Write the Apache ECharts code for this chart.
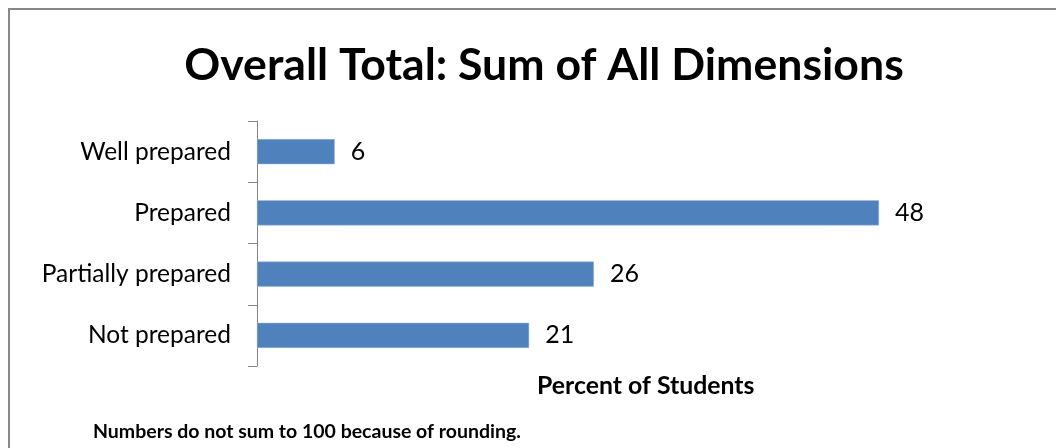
<!DOCTYPE html>
<html>
<head>
<meta charset="utf-8">
<script src="https://cdn.jsdelivr.net/npm/echarts@6/dist/echarts.min.js"></script>
<style>
html, body { margin: 0; padding: 0; background: #fff; }
#main { width: 1056px; height: 448px; }
</style>
</head>
<body>
<div id="main"></div>
<script>
var categories = ['Well prepared', 'Prepared', 'Partially prepared', 'Not prepared'];
var percents = [6, 48, 26, 21];

var chart = echarts.init(document.getElementById('main'));
var font = 'Lato';

var option = {
    backgroundColor: '#fff',
    animation: false,
    title: {
        text: 'Overall Total: Sum of All Dimensions',
        left: 539,
        top: 38,
        textAlign: 'center',
        textStyle: {
            fontFamily: font,
            fontSize: 44.6,
            fontWeight: 'bold',
            color: '#000'
        }
    },
    grid: {
        left: 257,
        top: 121,
        width: 777.5,
        height: 245
    },
    xAxis: {
        type: 'value',
        min: 0,
        max: 60,
        axisLine: { show: false },
        axisTick: { show: false },
        axisLabel: { show: false },
        splitLine: { show: false },
        name: 'Percent of Students',
        nameLocation: 'middle',
        nameGap: 8,
        nameTextStyle: {
            fontFamily: font,
            fontSize: 24.8,
            fontWeight: 'bold',
            color: '#000',
            verticalAlign: 'top'
        }
    },
    yAxis: {
        type: 'category',
        inverse: true,
        data: categories,
        axisLine: { lineStyle: { color: '#868686', width: 1 } },
        axisTick: { show: true, length: 9, lineStyle: { color: '#868686' } },
        axisLabel: {
            fontFamily: font,
            fontSize: 24.5,
            color: '#000',
            margin: 26
        }
    },
    series: [{
        type: 'bar',
        data: percents,
        barCategoryGap: '59%',
        itemStyle: { color: '#4F81BD', borderColor: '#9DB8DB', borderWidth: 0.5 },
        label: {
            show: true,
            position: 'right',
            distance: 16,
            fontFamily: font,
            fontSize: 25,
            color: '#000'
        }
    }],
    graphic: [{
        type: 'rect',
        shape: { x: 9, y: 9, width: 1100, height: 500 },
        style: { fill: null, stroke: '#888', lineWidth: 2 },
        silent: true
    }, {
        type: 'text',
        left: 93,
        top: 422,
        style: {
            text: 'Numbers do not sum to 100 because of rounding.',
            fontFamily: font,
            fontSize: 19.5,
            fontWeight: 'bold',
            fill: '#000'
        }
    }]
};

chart.setOption(option);
</script>
</body>
</html>
